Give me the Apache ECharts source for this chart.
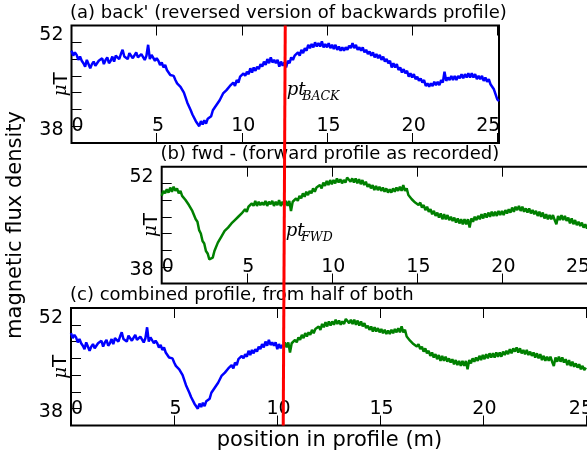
<!DOCTYPE html>
<html>
<head>
<meta charset="utf-8">
<script src="https://cdn.jsdelivr.net/npm/echarts@6/dist/echarts.min.js"></script>
<style>
  html, body { margin: 0; padding: 0; background: #fff; }
  #chart { width: 587px; height: 458px; }
</style>
</head>
<body>
<div id="chart"></div>
<script>
// Magnetometer profile: reversed backwards pass, forward pass, and the spliced profile.
const SAMPLE_STEP = 0.1;        // metres between samples
const PT_BACK = 12.55;          // splice point along the reversed backwards pass (m)
const PT_FWD = 7.2;             // splice point along the forward pass (m)
const COMBINED_LENGTH = 25;     // combined profile is rescaled onto 0..25 m
const Y_MIN = 38, Y_MAX = 52;
const X_TICKS = [0, 5, 10, 15, 20, 25];

const panelTitles = [
  "(a) back' (reversed version of backwards profile)",
  "(b) fwd - (forward profile as recorded)",
  "(c) combined profile, from half of both"
];

// back' : reversed backwards profile, µT, one value every 0.1 m
const backProfile = [
  49.0,48.4,48.8,48.5,47.9, 48.3,47.8,47.5,47.1,47.9,
  47.8,46.9,47.4,47.7,47.2, 47.3,47.8,47.6,48.1,47.4,
  47.9,48.2,47.5,47.8,48.3, 47.7,48.4,48.2,48.0,48.6,
  49.1,48.3,48.5,48.0,48.7, 48.6,48.1,48.3,48.8,48.2,
  48.1,48.6,48.5,47.9,48.4, 49.7,48.0,48.5,48.3,47.8,
  48.1,47.8,47.3,47.6,47.0, 47.3,46.7,46.9,46.1,46.3,
  46.0,45.5,45.1,45.3,44.7, 44.8,44.0,43.8,42.8,42.7,
  41.9,41.4,41.3,40.6,40.5, 40.0,40.6,40.2,40.7,40.3,
  40.9,41.1,41.2,41.9,41.8, 42.5,42.4,43.1,43.2,43.9,
  43.7,44.3,44.1,44.8,44.6, 45.2,44.8,45.5,45.2,45.9,
  45.7,46.3,46.0,46.5,46.2, 46.9,46.4,47.0,46.6,47.1,
  46.8,47.4,47.1,47.7,47.3, 48.0,47.5,48.2,47.6,47.9,
  47.5,47.9,47.1,47.7,47.2, 47.6,47.0,47.8,47.5,48.2,
  47.9,48.4,48.2,48.8,48.4, 49.1,48.7,49.3,49.0,49.7,
  49.3,49.8,49.4,50.0,49.5, 49.9,49.5,50.1,49.4,49.8,
  49.4,49.9,49.3,49.7,49.2, 49.7,49.1,49.5,49.0,49.4,
  49.0,49.4,49.1,49.6,49.3, 49.9,49.3,49.7,49.1,49.4,
  49.0,49.4,48.8,49.1,48.6, 48.9,48.4,48.8,48.2,48.6,
  48.1,48.5,47.9,48.3,47.7, 48.0,47.5,47.8,47.0,47.5,
  47.0,47.4,46.7,47.0,46.4, 46.8,46.3,46.6,45.9,46.3,
  45.8,46.2,45.6,45.9,45.4, 45.7,45.2,45.5,44.8,45.1,
  44.7,45.1,44.8,45.3,44.9, 45.3,44.9,45.5,45.2,46.5,
  45.4,45.8,45.5,46.0,45.5, 46.0,45.5,46.0,45.7,46.2,
  45.7,46.2,45.8,46.3,45.8, 46.3,45.8,46.2,45.6,46.0,
  45.6,46.0,45.4,45.8,45.3, 45.6,45.0,45.1,44.4,44.3,
  43.2,43.0
];

// fwd : forward profile as recorded, µT, one value every 0.1 m
const fwdProfile = [
  48.5,49.1,48.8,49.3,48.9, 49.5,49.0,49.6,49.1,49.4,
  48.8,49.1,48.5,48.7,48.0, 48.1,47.4,47.3,46.7,46.6,
  45.7,45.4,44.4,44.0,43.1, 42.8,41.9,41.6,40.9,41.1,
  41.1,41.9,42.1,42.9,42.9, 43.6,43.7,44.3,44.2,44.7,
  44.7,45.2,45.1,45.6,45.5, 46.0,45.9,46.4,46.3,46.9,
  46.6,47.2,47.0,47.6,47.3, 47.9,47.3,47.8,47.4,47.7,
  47.4,47.9,47.3,47.8,47.5, 47.9,47.3,47.8,47.4,48.0,
  47.3,47.8,47.4,47.9,47.3, 47.9,46.7,47.8,47.7,48.2,
  47.9,48.5,48.2,48.8,48.4, 49.0,48.6,49.1,48.8,49.4,
  49.0,49.5,49.3,49.8,49.4, 50.1,49.7,50.3,49.8,50.4,
  49.9,50.4,50.0,50.6,50.1, 50.5,50.0,50.4,50.1,50.7,
  50.8,50.2,50.6,50.1,50.6, 50.0,50.5,49.9,50.4,49.8,
  50.2,49.6,49.9,49.4,49.8, 49.2,49.7,49.2,49.6,49.1,
  49.5,49.0,49.4,48.9,49.3, 48.9,49.4,49.0,49.5,49.1,
  49.6,49.1,49.8,49.1,49.4, 48.6,48.8,48.1,48.3,47.7,
  47.9,47.4,47.7,47.1,47.4, 46.8,47.2,46.6,46.9,46.3,
  46.7,46.1,46.5,45.9,46.4, 45.7,46.3,45.7,46.2,45.6,
  46.0,45.5,45.9,45.3,45.8, 45.2,45.7,45.1,45.7,45.1,
  45.7,44.7,45.8,45.4,46.0, 45.6,46.1,45.7,46.3,45.8,
  46.4,45.9,46.5,46.0,46.6, 46.1,46.6,46.1,46.7,46.2,
  46.7,46.2,46.8,46.4,46.9, 46.5,47.1,46.6,47.2,46.8,
  47.3,46.7,47.2,46.6,47.0, 46.5,47.0,46.4,46.8,46.3,
  46.7,46.1,46.6,46.0,46.5, 45.8,46.3,45.7,46.2,45.7,
  46.2,45.6,45.1,46.1,45.6, 46.2,45.6,46.1,45.5,45.9,
  45.2,45.8,45.1,45.6,45.0, 45.4,44.9,45.3,44.7,45.1,
  44.6,44.9
];

// ---- derived series ----
const toPairs = vals => vals.map((v, i) => [+(i * SAMPLE_STEP).toFixed(2), v]);
const backPairs = toPairs(backProfile);
const fwdPairs = toPairs(fwdProfile);
const fwdEnd = (fwdProfile.length - 1) * SAMPLE_STEP;
const combinedScale = COMBINED_LENGTH / (PT_BACK + fwdEnd - PT_FWD);
const splice = PT_BACK * combinedScale;
const combinedBack = backPairs.filter(p => p[0] <= PT_BACK + 1e-9)
  .map(p => [p[0] * combinedScale, p[1]]);
const combinedFwd = fwdPairs.filter(p => p[0] >= PT_FWD - 1e-9)
  .map(p => [(PT_BACK + p[0] - PT_FWD) * combinedScale, p[1]]);

// ---- layout ----
const FONT = 'DejaVu Sans';
const X_MAX = 25.1;
const grids = [
  { left: 71.5, top: 25.5, width: 427.5, height: 117.5 },
  { left: 161.7, top: 166.7, width: 427, height: 116.8 },
  { left: 71, top: 308, width: 517, height: 117.5 }
];
const lastLabelShift = [18, 18, 10];

function xAxesFor(gi) {
  const tick = { show: true, inside: true, length: 10, lineStyle: { color: '#000', width: 1 } };
  const common = {
    gridIndex: gi, type: 'value', min: 0, max: X_MAX, interval: 5,
    axisLine: { show: false }, splitLine: { show: false }, axisTick: tick
  };
  const txt = { fontSize: 19, fontFamily: FONT, color: '#000' };
  return [
    Object.assign({}, common, { position: 'top', axisLabel: { show: false } }),
    Object.assign({}, common, {
      position: 'bottom',
      axisLabel: Object.assign({
        inside: true, margin: 7,
        formatter: v => {
          if (!X_TICKS.includes(v)) return '';
          if (v === X_TICKS[0]) return '{l|' + v + '}';
          if (v === X_TICKS[X_TICKS.length - 1]) return '{r|' + v + '}';
          return '{m|' + v + '}';
        },
        rich: {
          l: Object.assign({ padding: [0, 0, 0, 12] }, txt),
          m: Object.assign({ padding: [0, 0, 0, 3] }, txt),
          r: Object.assign({ padding: [0, lastLabelShift[gi], 0, 0] }, txt)
        }
      }, txt)
    })
  ];
}

function yAxisFor(gi) {
  const txt = { fontSize: 19, fontFamily: FONT, color: '#000' };
  return {
    gridIndex: gi, type: 'value', min: Y_MIN, max: Y_MAX, interval: 2,
    axisLine: { show: false }, splitLine: { show: false },
    axisTick: { show: true, inside: true, length: 10, lineStyle: { color: '#000', width: 1 } },
    axisLabel: Object.assign({
      margin: 8,
      formatter: v => v === Y_MAX ? '{t|' + v + '}' : (v === Y_MIN ? '{b|' + v + '}' : ''),
      rich: {
        t: Object.assign({ padding: [20, 0, 0, 0] }, txt),
        b: Object.assign({ padding: [0, 0, 26, 0] }, txt)
      }
    }, txt),
    name: '{mu|μ}{t|T}',
    nameLocation: 'middle',
    nameRotate: 90,
    nameGap: 0,
    nameMoveOverlap: false,
    nameTextStyle: {
      rich: {
        mu: { fontFamily: 'DejaVu Serif', fontStyle: 'italic', fontSize: 18, color: '#000' },
        t: { fontFamily: FONT, fontSize: 20, color: '#000' }
      }
    }
  };
}

const xAxes = [].concat(xAxesFor(0), xAxesFor(1), xAxesFor(2));
xAxes[5].name = 'position in profile (m)';
xAxes[5].nameLocation = 'middle';
xAxes[5].nameGap = 5;
xAxes[5].nameMoveOverlap = false;
xAxes[5].nameTextStyle = { fontSize: 21, fontFamily: FONT, color: '#000', verticalAlign: 'top' };

const lineSeries = (name, xi, yi, data, color) => ({
  name, type: 'line', xAxisIndex: xi, yAxisIndex: yi, data,
  showSymbol: false, symbol: 'none', animation: false, clip: true,
  lineStyle: { color, width: 2.5 }, z: 3
});

const titleTops = [4, 145.5, 286];
const titleLefts = [70, 160.5, 70];

const chart = echarts.init(document.getElementById('chart'), null, { renderer: 'canvas' });
chart.setOption({
  animation: false,
  backgroundColor: '#fff',
  title: panelTitles.map((t, i) => ({
    text: t, left: titleLefts[i], top: titleTops[i], padding: 0,
    textStyle: { fontSize: 18, fontWeight: 'normal', fontFamily: FONT, color: '#000' }
  })),
  grid: grids.map(g => Object.assign({
    show: true, borderColor: '#000', borderWidth: 2, backgroundColor: 'transparent',
    containLabel: false, outerBoundsMode: 'none'
  }, g)),
  xAxis: xAxes,
  yAxis: [yAxisFor(0), yAxisFor(1), yAxisFor(2)],
  series: [
    lineSeries("back'", 1, 0, backPairs, '#0000ff'),
    lineSeries('fwd', 3, 1, fwdPairs, '#008000'),
    lineSeries('combined back', 5, 2, combinedBack, '#0000ff'),
    lineSeries('combined fwd', 5, 2, combinedFwd, '#008000')
  ]
});

// splice marker and labels, placed through the axes' own coordinate conversion
const lineTop = chart.convertToPixel({ xAxisIndex: 1, yAxisIndex: 0 }, [PT_BACK, Y_MAX]);
const lineBottom = chart.convertToPixel({ xAxisIndex: 5, yAxisIndex: 2 }, [splice, Y_MIN]);
const tagBack = chart.convertToPixel({ xAxisIndex: 1, yAxisIndex: 0 }, [PT_BACK, 44.3]);
const tagFwd = chart.convertToPixel({ xAxisIndex: 3, yAxisIndex: 1 }, [PT_FWD, 44.3]);

function ptLabel(anchor, sub) {
  return [
    { type: 'text', x: anchor[0] + 1.5, y: anchor[1], z: 20,
      style: { text: 'pt', font: 'italic 18px "DejaVu Serif"', fill: '#000', verticalAlign: 'middle' } },
    { type: 'text', x: anchor[0] + 17, y: anchor[1] + 7, z: 20,
      style: { text: sub, font: 'italic 12.5px "DejaVu Serif"', fill: '#000', verticalAlign: 'middle' } }
  ];
}

const axisCaption = { type: 'text', x: 16, y: 225, rotation: Math.PI / 2, z: 20,
  style: { text: 'magnetic flux density', font: '21px "DejaVu Sans"', fill: '#000',
           align: 'center', verticalAlign: 'middle' } };

chart.setOption({
  graphic: [
    { type: 'line', z: 30,
      shape: { x1: lineTop[0], y1: lineTop[1], x2: lineBottom[0], y2: lineBottom[1] },
      style: { stroke: '#ff0000', lineWidth: 3 } },
    axisCaption
  ].concat(ptLabel(tagBack, 'BACK'), ptLabel(tagFwd, 'FWD'))
});
</script>
</body>
</html>
